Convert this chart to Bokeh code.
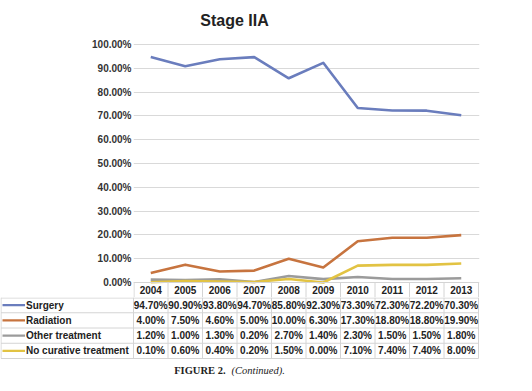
from bokeh.plotting import figure
from bokeh.layouts import column
from bokeh.models import ColumnDataSource, Range1d, FixedTicker, NumeralTickFormatter
from bokeh.embed import file_html
from bokeh.resources import INLINE
from bokeh.core.properties import value

# ---------------- data ----------------
years = ["2004", "2005", "2006", "2007", "2008", "2009", "2010", "2011", "2012", "2013"]
series_names = ["Surgery", "Radiation", "Other treatment", "No curative treatment"]
surgery = [94.7, 90.9, 93.8, 94.7, 85.8, 92.3, 73.3, 72.3, 72.2, 70.3]
radiation = [4.0, 7.5, 4.6, 5.0, 10.0, 6.3, 17.3, 18.8, 18.8, 19.9]
other_treatment = [1.2, 1.0, 1.3, 0.2, 2.7, 1.4, 2.3, 1.5, 1.5, 1.8]
no_curative = [0.1, 0.6, 0.4, 0.2, 1.5, 0.0, 7.1, 7.4, 7.4, 8.0]
y_ticks = [0.0, 0.1, 0.2, 0.3, 0.4, 0.5, 0.6, 0.7, 0.8, 0.9, 1.0]
colors = ["#6a7dbd", "#c7743f", "#9b9b9b", "#e2c343"]
title_text = "Stage IIA"
caption_bold = "FIGURE 2."
caption_italic = "(Continued)."

all_series = [surgery, radiation, other_treatment, no_curative]

FONT = "Liberation Sans"
SERIF = "Liberation Serif"
TXT = "#222222"
BORDER = "#d4d4d4"

# ---------------- geometry (page pixels) ----------------
OX, OY = 8, 0                 # where the figures start on the page
W = 516
TAB_L, COL0, TAB_R = 8.5, 141, 486   # table left, first year column, table right
n = len(years)
CW = (TAB_R - COL0) / n       # column width
P0, P100 = 282, 44            # page y of 0% and 100%
HDR_B = 297                   # bottom of header row / top of data rows
RH = 15.25                    # data-row height
HH = HDR_B - P0               # header-row height
PAGE_B = 385

xc = [i + 0.5 for i in range(n)]   # year i centred in column i

# ================= top figure: chart + header row =================
H1 = HDR_B - OY
FL = COL0 - OX
FR = 487 - OX
py = lambda page_y: page_y - OY          # page y -> figure y
PPU = P100 - P0
f0 = py(P0)
y_start = (H1 - f0) / PPU
y_end = 1 + (0 - py(P100)) / PPU
top = figure(width=W, height=H1, output_backend="svg", toolbar_location=None,
             x_range=Range1d(0, (FR - FL) / CW),
             y_range=Range1d(y_start, y_end),
             min_border_left=FL, min_border_right=W - FR,
             min_border_top=0, min_border_bottom=0,
             x_axis_location=None)
top.frame_align = False
# header-row units: 0 at the 0% line, 1 at header bottom, increasing downwards
top.extra_y_ranges = {"tbl": Range1d((H1 - f0) / HH, (0 - f0) / HH)}
top.outline_line_color = None
top.border_fill_color = "white"

ax = top.yaxis[0]
ax.ticker = FixedTicker(ticks=y_ticks)
ax.formatter = NumeralTickFormatter(format="0.00%")
ax.axis_line_color = None
ax.major_tick_line_color = None
ax.minor_tick_line_color = None
ax.major_tick_out = 0
ax.major_tick_in = 0
ax.major_label_standoff = 2
ax.major_label_text_font = FONT
ax.major_label_text_font_size = "10px"
ax.major_label_text_font_style = "bold"
ax.major_label_text_color = "#333333"

top.xgrid.visible = False
top.ygrid.ticker = FixedTicker(ticks=y_ticks)
top.ygrid.grid_line_color = "#d9d9d9"
top.ygrid.grid_line_width = 1

for vals, c in zip(all_series, colors):
    top.line(x=xc, y=[v / 100 for v in vals], line_color=c, line_width=2.6,
             line_join="round")

# header row borders
eps = 0.5 / CW
hx0 = [0] + [max(c, eps) for c in range(n + 1)]
hx1 = [n] + [max(c, eps) for c in range(n + 1)]
hy0 = [0] + [0] * (n + 1)
hy1 = [0] + [1] * (n + 1)
top.segment(x0=hx0, y0=hy0, x1=hx1, y1=hy1, y_range_name="tbl",
            line_color=BORDER, line_width=1)
top.text(x=xc, y=[0.5] * n, text=years, y_range_name="tbl",
         text_align="center", text_baseline="middle",
         text_font=value(FONT), text_font_size="10px", text_font_style="bold",
         text_color=TXT)

# title (inside the frame area, which reaches the top of the figure)
top.text(x=[(242 - COL0) / CW], y=[(py(19.5) - f0) / HH], text=[title_text],
         y_range_name="tbl", text_align="center", text_baseline="middle",
         text_font=value(FONT), text_font_size="16px", text_font_style="bold",
         text_color=TXT)

# ================= bottom figure: data rows + caption =================
H2 = PAGE_B - HDR_B
bot = figure(width=W, height=H2, output_backend="svg", toolbar_location=None,
             x_range=Range1d((OX - COL0) / CW, (OX + W - COL0) / CW),
             y_range=Range1d(H2 / RH, 0),
             min_border_left=0, min_border_right=0,
             min_border_top=0, min_border_bottom=0,
             x_axis_location=None, y_axis_location=None)
bot.frame_align = False
bot.outline_line_color = None
bot.xgrid.visible = False
bot.ygrid.visible = False
bot.border_fill_color = "white"

LX = (TAB_L - COL0) / CW
e2 = 0.5 / RH
bx0, by0, bx1, by1 = [], [], [], []
for r in range(0, 5):
    yy = max(r, e2)
    bx0.append(LX); by0.append(yy); bx1.append(n); by1.append(yy)
for xv in [LX] + list(range(n + 1)):
    bx0.append(xv); by0.append(0); bx1.append(xv); by1.append(4)
bot.segment(x0=bx0, y0=by0, x1=bx1, y1=by1, line_color=BORDER, line_width=1)

cx, cy, ct = [], [], []
for r, vals in enumerate(all_series):
    for x, v in zip(xc, vals):
        cx.append(x); cy.append(r + 0.5); ct.append(f"{v:.2f}%")
bot.text(x=cx, y=cy, text=ct, text_align="center", text_baseline="middle",
         text_font=value(FONT), text_font_size="10px", text_font_style="bold",
         text_color=TXT)

key_x0 = (10 - COL0) / CW
key_x1 = (32.5 - COL0) / CW
lab_x = (33.5 - COL0) / CW
rows_y = [r + 0.5 for r in range(len(series_names))]
bot.segment(x0=[key_x0] * 4, y0=rows_y, x1=[key_x1] * 4, y1=rows_y,
            line_color=colors, line_width=2.2)
bot.text(x=[lab_x] * 4, y=rows_y, text=series_names, text_align="left",
         text_baseline="middle", text_font=value(FONT), text_font_size="10px",
         text_font_style="bold", text_color=TXT)

cap_y = (370 - HDR_B) / RH
bot.text(x=[(233 - COL0) / CW], y=[cap_y], text=[caption_bold],
         text_align="right", text_baseline="middle", text_font=value(SERIF),
         text_font_size="10.5px", text_font_style="bold", text_color=TXT)
bot.text(x=[(239 - COL0) / CW], y=[cap_y], text=[caption_italic],
         text_align="left", text_baseline="middle", text_font=value(SERIF),
         text_font_size="10.5px", text_font_style="italic", text_color=TXT)

page = column(top, bot, spacing=0)
open("out.html", "w").write(file_html(page, INLINE))
